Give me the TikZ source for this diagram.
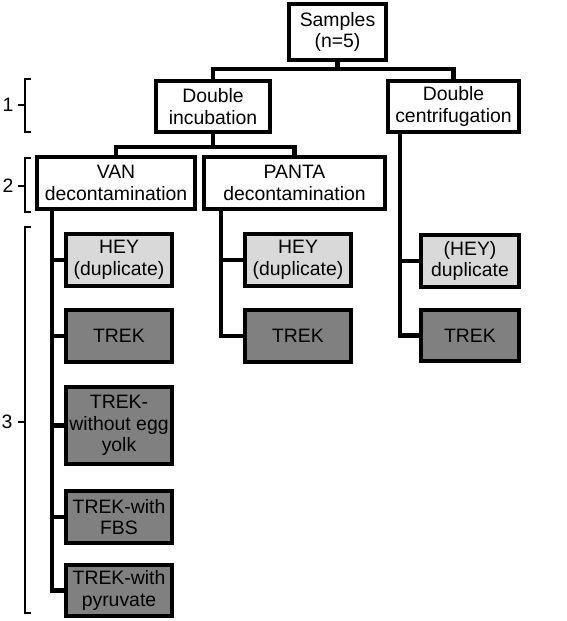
\documentclass[tikz,border=0pt]{standalone}
\usepackage{fontspec}
\setmainfont{Liberation Sans}
\definecolor{lightbox}{HTML}{D9D9D9}
\definecolor{darkbox}{HTML}{808080}
\begin{document}
\begin{tikzpicture}[x=1pt,y=-1pt,
  box/.style={draw=black, line width=4.4pt, fill=white, align=center, inner sep=0pt,
    font=\fontsize{19.4}{21.8}\selectfont},
  lbox/.style={box, fill=lightbox},
  dbox/.style={box, fill=darkbox},
  conn/.style={line width=4.4pt},
  brk/.style={line width=1.7pt},
  lab/.style={font=\fontsize{19.4}{21.8}\selectfont, inner sep=0pt}]
\useasboundingbox (0,0) rectangle (566,621);
% level 0
\node[box, minimum width=97pt, minimum height=56pt] (samples) at (337.5,32) {Samples\\(n=5)};
% level 1
\node[box, minimum width=114pt, minimum height=51pt] (di) at (213,106.5) {Double\\incubation};
\node[box, minimum width=131pt, minimum height=51pt] (dc) at (453.5,106.5) {Double\\centrifugation};
% level 2
\node[box, minimum width=158pt, minimum height=52pt] (van) at (116,183) {VAN\\decontamination};
\node[box, minimum width=181pt, minimum height=52pt] (panta) at (294.5,183) {PANTA\\decontamination};
% VAN column
\node[lbox, minimum width=106pt, minimum height=52pt] (hey1) at (119,260) {HEY\\(duplicate)};
\node[dbox, minimum width=106pt, minimum height=52pt] (trek1) at (119,336) {TREK};
\node[dbox, minimum width=106pt, minimum height=77pt] (trekegg) at (119,425.5) {TREK-\\without egg\\yolk};
\node[dbox, minimum width=106pt, minimum height=52pt] (trekfbs) at (119,517) {TREK-with\\FBS};
\node[dbox, minimum width=106pt, minimum height=51pt] (trekpyr) at (119,590.5) {TREK-with\\pyruvate};
% PANTA column
\node[lbox, minimum width=106pt, minimum height=52pt] (hey2) at (298,260) {HEY\\(duplicate)};
\node[dbox, minimum width=106pt, minimum height=52pt] (trek2) at (298,336) {TREK};
% centrifugation column
\node[lbox, minimum width=98pt, minimum height=52pt] (hey3) at (470,261) {(HEY)\\duplicate};
\node[dbox, minimum width=98pt, minimum height=51pt] (trek3) at (470,335.5) {TREK};
% connectors
\coordinate (y0) at (0,69);
\coordinate (y1) at (0,147);
\coordinate (vx) at (52,0);
\coordinate (px) at (221,0);
\coordinate (cx) at (400,0);
\draw[conn] (samples.south) -- (samples.south |- y0);
\draw[conn] (di.north) |- (samples.south |- y0) -| (dc.north);
\draw[conn] (di.south) -- (di.south |- y1);
\draw[conn] (van.north) |- (di.south |- y1) -| (panta.north);
\draw[conn] (van.south -| vx) |- (trekpyr.west);
\draw[conn] (vx |- hey1.west) -- (hey1.west);
\draw[conn] (vx |- trek1.west) -- (trek1.west);
\draw[conn] (vx |- trekegg.west) -- (trekegg.west);
\draw[conn] (vx |- trekfbs.west) -- (trekfbs.west);
\draw[conn] (panta.south -| px) |- (trek2.west);
\draw[conn] (px |- hey2.west) -- (hey2.west);
\draw[conn] (dc.south -| cx) |- (trek3.west);
\draw[conn] (cx |- hey3.west) -- (hey3.west);
% brackets
\draw[brk] (31,79) -- (25,79) -- (25,132) -- (31,132);
\draw[brk] (25,105) -- (18,105);
\node[lab] (l1) at (8,105) {1};
\draw[brk] (31,158) -- (25,158) -- (25,212) -- (31,212);
\draw[brk] (25,186) -- (18,186);
\node[lab] (l2) at (8,186) {2};
\draw[brk] (31,227) -- (25,227) -- (25,613) -- (31,613);
\draw[brk] (25,422) -- (18,422);
\node[lab] (l3) at (7,422) {3};
\end{tikzpicture}
\end{document}
